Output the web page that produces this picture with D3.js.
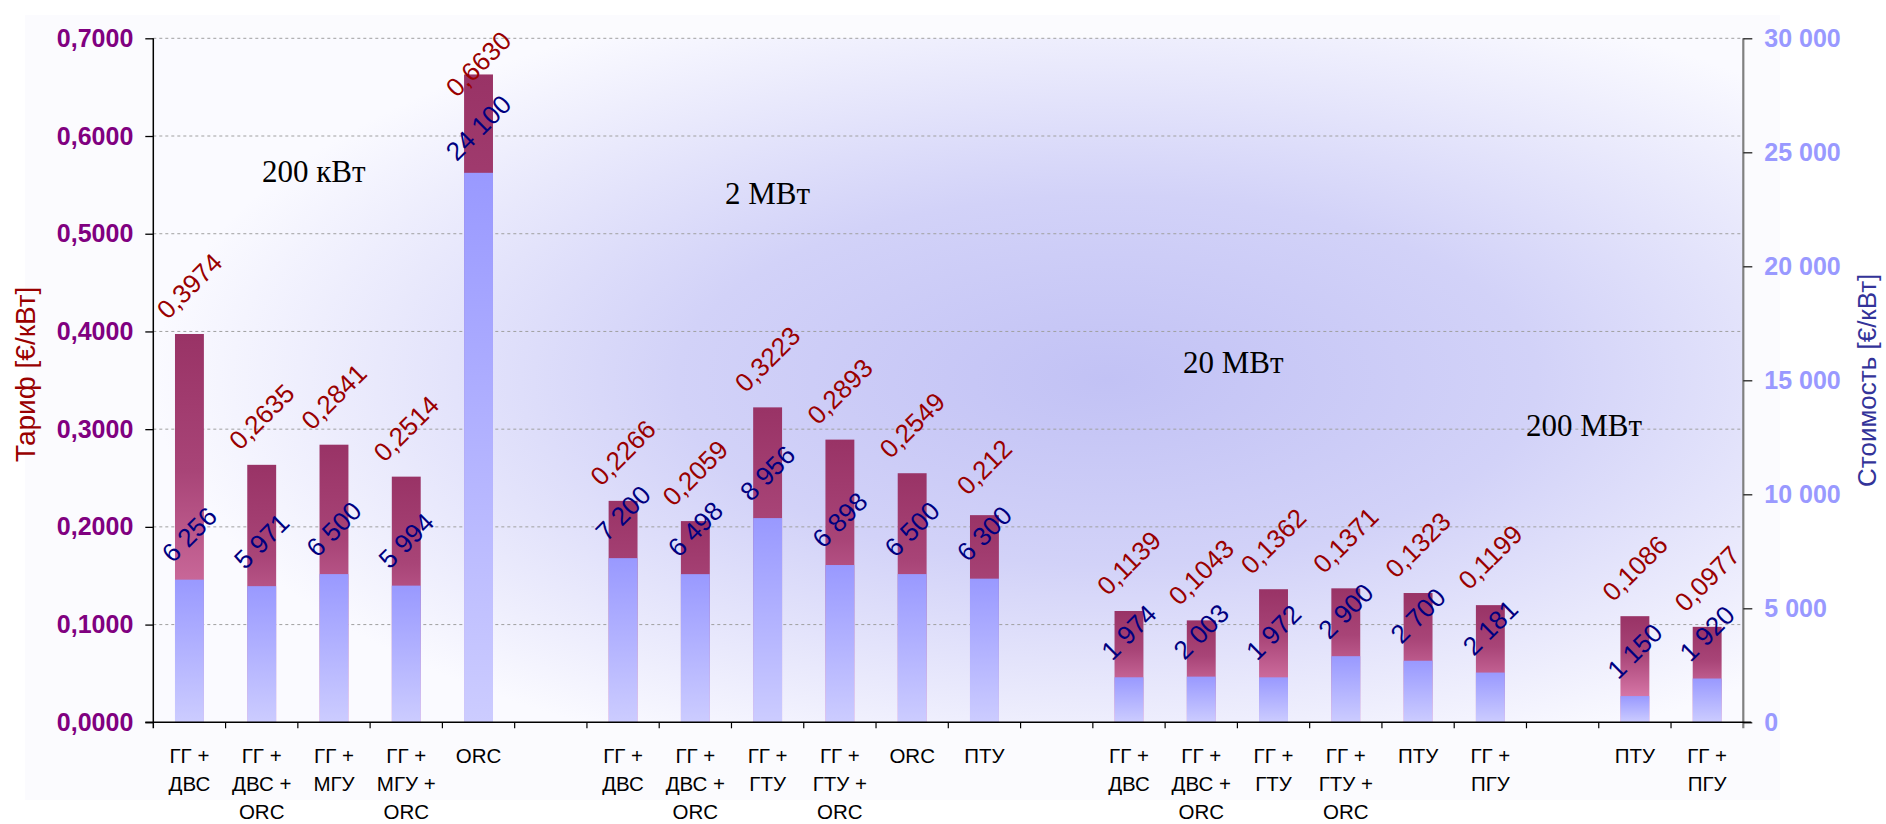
<!DOCTYPE html>
<html>
<head>
<meta charset="utf-8">
<script src="https://cdn.jsdelivr.net/npm/d3@7"></script>
<style>
  html, body { margin: 0; padding: 0; background: #ffffff; }
  svg { display: block; }
</style>
</head>
<body>
<svg id="chart" width="1886" height="824"></svg>
<script>
// ---------- data ----------
const categories = [
  "ГГ +\nДВС", "ГГ +\nДВС +\nORC", "ГГ +\nМГУ", "ГГ +\nМГУ +\nORC", "ORC",
  "ГГ +\nДВС", "ГГ +\nДВС +\nORC", "ГГ +\nГТУ", "ГГ +\nГТУ +\nORC", "ORC", "ПТУ",
  "ГГ +\nДВС", "ГГ +\nДВС +\nORC", "ГГ +\nГТУ", "ГГ +\nГТУ +\nORC", "ПТУ", "ГГ +\nПГУ",
  "ПТУ", "ГГ +\nПГУ"
];
const groupIndex = [0,0,0,0,0, 1,1,1,1,1,1, 2,2,2,2,2,2, 3,3];
const tariff = [0.3974, 0.2635, 0.2841, 0.2514, 0.6630,
                0.2266, 0.2059, 0.3223, 0.2893, 0.2549, 0.212,
                0.1139, 0.1043, 0.1362, 0.1371, 0.1323, 0.1199,
                0.1086, 0.0977];
const tariffLabels = ["0,3974", "0,2635", "0,2841", "0,2514", "0,6630",
                      "0,2266", "0,2059", "0,3223", "0,2893", "0,2549", "0,212",
                      "0,1139", "0,1043", "0,1362", "0,1371", "0,1323", "0,1199",
                      "0,1086", "0,0977"];
const cost = [6256, 5971, 6500, 5994, 24100,
              7200, 6498, 8956, 6898, 6500, 6300,
              1974, 2003, 1972, 2900, 2700, 2181,
              1150, 1920];
const leftTicks = [0, 0.1, 0.2, 0.3, 0.4, 0.5, 0.6, 0.7];
const rightTicks = [0, 5000, 10000, 15000, 20000, 25000, 30000];
const capacityLabels = ["200 кВт", "2 МВт", "20 МВт", "200 МВт"];
const leftTitle = "Тариф [€/кВт]";
const rightTitle = "Стоимость [€/кВт]";

// ---------- layout ----------
const X0 = 153.3, X1 = 1743.3, YT = 38.3, YB = 722.3;
const nSlots = categories.length + groupIndex[groupIndex.length - 1];
const slotOf = i => i + groupIndex[i];

const svg = d3.select("#chart");
const defs = svg.append("defs");

const x = d3.scaleBand().domain(d3.range(nSlots)).range([X0, X1]).padding(0);
const yL = d3.scaleLinear().domain([0, 0.7]).range([YB, YT]);
const yR = d3.scaleLinear().domain([0, 30000]).range([YB, YT]);
const barW = x.bandwidth() * 0.4;
const cx = i => x(slotOf(i)) + x.bandwidth() / 2;

const sansFont = "'Liberation Sans', Arial, sans-serif";
const serifFont = "'Liberation Serif', 'Times New Roman', serif";

// gradients
const bg = defs.append("radialGradient").attr("id", "bgGrad")
  .attr("cx", 0.6).attr("cy", 0.5).attr("r", 0.6).attr("fx", 0.6).attr("fy", 0.5);
bg.append("stop").attr("offset", 0).attr("stop-color", "#C2C2F5");
bg.append("stop").attr("offset", 0.45).attr("stop-color", "#D2D2F8");
bg.append("stop").attr("offset", 1).attr("stop-color", "#FAFAFF");

const gM = defs.append("linearGradient").attr("id", "gradMaroon")
  .attr("x1", 0).attr("y1", 0).attr("x2", 0).attr("y2", 1);
gM.append("stop").attr("offset", 0).attr("stop-color", "#993366");
gM.append("stop").attr("offset", 0.35).attr("stop-color", "#A84477");
gM.append("stop").attr("offset", 0.75).attr("stop-color", "#D575A5");
gM.append("stop").attr("offset", 1).attr("stop-color", "#F796C6");

const gB = defs.append("linearGradient").attr("id", "gradBlue")
  .attr("x1", 0).attr("y1", 0).attr("x2", 0).attr("y2", 1);
gB.append("stop").attr("offset", 0).attr("stop-color", "#9999FF");
gB.append("stop").attr("offset", 1).attr("stop-color", "#CCCCFF");

// chart area background
svg.append("rect").attr("x", 25).attr("y", 15).attr("width", 1755).attr("height", 785)
  .attr("fill", "#FBFBFE");
// plot area
svg.append("rect").attr("x", X0).attr("y", YT).attr("width", X1 - X0).attr("height", YB - YT)
  .attr("fill", "url(#bgGrad)");

// gridlines
svg.append("g").selectAll("line").data(leftTicks.filter(d => d > 0)).join("line")
  .attr("x1", X0).attr("x2", X1)
  .attr("y1", d => yL(d)).attr("y2", d => yL(d))
  .attr("stroke", "#A0A0A0").attr("stroke-width", 1).attr("stroke-dasharray", "3,3");

// capacity annotations
const annPos = [[262, 182], [725, 204], [1183, 373], [1526, 436]];
svg.append("g").selectAll("text").data(capacityLabels).join("text")
  .attr("x", (d, i) => annPos[i][0]).attr("y", (d, i) => annPos[i][1])
  .attr("font-family", serifFont).attr("font-size", 31).attr("fill", "#000")
  .text(d => d);

// tariff bars (left axis)
svg.append("g").selectAll("rect").data(tariff).join("rect")
  .attr("x", (d, i) => cx(i) - barW / 2).attr("width", barW)
  .attr("y", d => yL(d)).attr("height", d => YB - yL(d))
  .attr("fill", "url(#gradMaroon)");

// cost bars (right axis)
svg.append("g").selectAll("rect").data(cost).join("rect")
  .attr("x", (d, i) => cx(i) - barW / 2).attr("width", barW)
  .attr("y", d => yR(d)).attr("height", d => YB - yR(d))
  .attr("fill", "url(#gradBlue)");

// axes
const fmtL = d => d3.format(".4f")(d).replace(".", ",");
const fmtR = d => d3.format(",")(d).replace(/,/g, " ");

const axL = svg.append("g").attr("transform", `translate(${X0},0)`)
  .call(d3.axisLeft(yL).tickValues(leftTicks).tickFormat(fmtL).tickSize(8).tickPadding(12));
axL.select(".domain").attr("stroke", "#000").attr("stroke-width", 1.5)
  .attr("d", `M0,${YT}V${YB + 6}`);
axL.selectAll(".tick line").attr("stroke", "#000").attr("stroke-width", 1.3);
axL.selectAll(".tick text").attr("font-family", sansFont).attr("font-size", 25)
  .attr("font-weight", "bold").attr("fill", "#800080");

const axR = svg.append("g").attr("transform", `translate(${X1},0)`)
  .call(d3.axisRight(yR).tickValues(rightTicks).tickFormat(fmtR).tickSize(9).tickPadding(12));
axR.select(".domain").attr("stroke", "#808080").attr("stroke-width", 2.2)
  .attr("d", `M0,${YT}V${YB + 6}`);
axR.selectAll(".tick line").attr("stroke", "#222").attr("stroke-width", 1.3);
axR.selectAll(".tick text").attr("font-family", sansFont).attr("font-size", 25)
  .attr("font-weight", "bold").attr("fill", "#9999FF");

// x axis
const axX = svg.append("g");
axX.append("line").attr("x1", X0 - 8).attr("x2", X1 + 8).attr("y1", YB).attr("y2", YB)
  .attr("stroke", "#000").attr("stroke-width", 1.5);
axX.selectAll("line.tk").data(d3.range(1, nSlots)).join("line").attr("class", "tk")
  .attr("x1", d => x(d)).attr("x2", d => x(d))
  .attr("y1", YB).attr("y2", YB + 6)
  .attr("stroke", "#000").attr("stroke-width", 1.2);

const xl = axX.selectAll("text.cat").data(categories).join("text").attr("class", "cat")
  .attr("font-family", sansFont).attr("font-size", 20.5).attr("fill", "#000")
  .attr("text-anchor", "middle");
xl.each(function (d, i) {
  const t = d3.select(this);
  d.split("\n").forEach((line, k) => {
    t.append("tspan").attr("x", cx(i)).attr("y", YB + 41 + k * 28).text(line);
  });
});

// value labels (kept inside the chart area)
const LABEL_MIN_Y = 64;
svg.append("g").selectAll("text").data(tariff).join("text")
  .attr("transform", (d, i) => `translate(${cx(i)},${Math.max(yL(d) - 48, LABEL_MIN_Y)}) rotate(-45)`)
  .attr("text-anchor", "middle").attr("dominant-baseline", "central")
  .attr("font-family", sansFont).attr("font-size", 26).attr("fill", "#990000")
  .text((d, i) => tariffLabels[i]);

svg.append("g").selectAll("text").data(cost).join("text")
  .attr("transform", (d, i) => `translate(${cx(i)},${yR(d) - 45}) rotate(-45)`)
  .attr("text-anchor", "middle").attr("dominant-baseline", "central")
  .attr("font-family", sansFont).attr("font-size", 26).attr("fill", "#000080")
  .text(d => fmtR(d));

// axis titles
svg.append("text").attr("transform", `translate(35,${(YT + YB) / 2 - 6}) rotate(-90)`)
  .attr("text-anchor", "middle").attr("font-family", sansFont).attr("font-size", 28)
  .attr("fill", "#990000").text(leftTitle);
svg.append("text").attr("transform", `translate(1876,${(YT + YB) / 2}) rotate(-90)`)
  .attr("text-anchor", "middle").attr("font-family", sansFont).attr("font-size", 26)
  .attr("fill", "#333399").text(rightTitle);
</script>
</body>
</html>
